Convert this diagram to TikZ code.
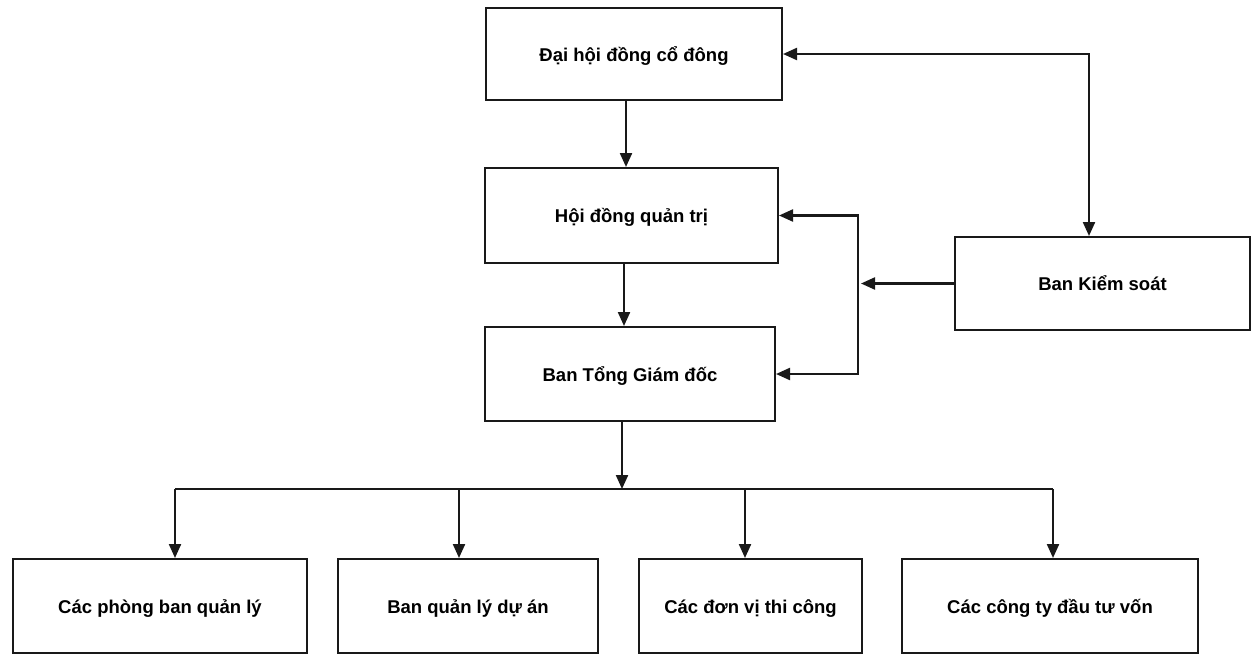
\documentclass[tikz,border=0pt]{standalone}
\usepackage{fontspec}
\setmainfont{Liberation Sans}
\usetikzlibrary{arrows.meta}
\begin{document}
\begin{tikzpicture}[x=1pt,y=-1pt,
  box/.style={draw=black!90, line width=2pt, fill=white, inner sep=0pt,
    text height=18.5pt, text depth=4pt,
    font=\fontsize{18.5}{21}\selectfont\bfseries},
  conn/.style={draw=black!90, line width=2.2pt},
  arr/.style={conn, -{Triangle[length=14pt,width=12pt]}},
  arrb/.style={conn, {Triangle[length=14pt,width=12pt]}-{Triangle[length=14pt,width=12pt]}}]
\useasboundingbox[fill=white] (0,0) rectangle (1253,656);
% nodes
\node[box, minimum width=296pt, minimum height=92pt] (dh) at (634,54) {Đại hội đồng cổ đông};
\node[box, minimum width=293pt, minimum height=95pt] (hd) at (631.5,215.5) {Hội đồng quản trị};
\node[box, minimum width=290pt, minimum height=94pt] (tgd) at (630,374) {Ban Tổng Giám đốc};
\node[box, minimum width=295pt, minimum height=93pt] (bks) at (1102.5,283.5) {Ban Kiểm soát};
\node[box, minimum width=294pt, minimum height=94pt] (pb) at (160,606) {Các phòng ban quản lý};
\node[box, minimum width=260pt, minimum height=94pt] (ql) at (468,606) {Ban quản lý dự án};
\node[box, minimum width=223pt, minimum height=94pt] (dv) at (750.5,606) {Các đơn vị thi công};
\node[box, minimum width=296pt, minimum height=94pt] (ct) at (1050,606) {Các công ty đầu tư vốn};
% helper coordinates
\coordinate (t1) at (626,0);
\coordinate (t2) at (624,0);
\coordinate (t3) at (622,0);
\coordinate (bus) at (0,489);
\coordinate (d1) at (175,0);
\coordinate (d2) at (459,0);
\coordinate (d3) at (745,0);
\coordinate (d4) at (1053,0);
\coordinate (k) at (1089,0);
\coordinate (v) at (858,0);
\coordinate (vt) at (861,0);
% vertical chain
\draw[arr] (dh.south -| t1) -- (hd.north -| t1);
\draw[arr] (hd.south -| t2) -- (tgd.north -| t2);
\draw[arr] (tgd.south -| t3) -- (bus -| t3);
% bus
\draw[conn] (bus -| d1) -- (bus -| d4);
\draw[arr] (bus -| d1) -- (pb.north -| d1);
\draw[arr] (bus -| d2) -- (ql.north -| d2);
\draw[arr] (bus -| d3) -- (dv.north -| d3);
\draw[arr] (bus -| d4) -- (ct.north -| d4);
% control board links
\draw[arrb] (dh.east) -| (bks.north -| k);
\draw[arr] (bks.west) -- (bks.west -| vt);
\draw[arrb] (hd.east) -- (hd.east -| v) -- (tgd.east -| v) -- (tgd.east);
\end{tikzpicture}
\end{document}
